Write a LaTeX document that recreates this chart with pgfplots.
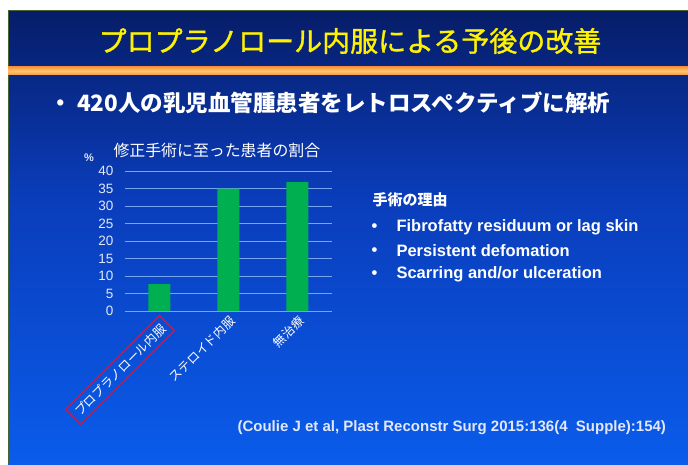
\documentclass[border=0pt]{standalone}
\usepackage{pgfplots}
\pgfplotsset{compat=1.18}
\usepackage{fontspec}
\setmainfont{Liberation Sans}
\newfontfamily\jp{Noto Sans CJK JP}
\newfontfamily\jptitle[FakeBold=1.2]{Noto Sans CJK JP}
\definecolor{bgA}{RGB}{2,12,62}
\definecolor{bgB}{RGB}{6,24,92}
\definecolor{bgC}{RGB}{10,60,185}
\definecolor{bgD}{RGB}{10,92,235}
\definecolor{bgE}{RGB}{10,104,255}
\definecolor{orA}{RGB}{236,110,20}
\definecolor{orB}{RGB}{255,196,110}
\definecolor{gridc}{RGB}{120,165,240}
\definecolor{barg}{RGB}{0,176,80}
\definecolor{boxr}{RGB}{185,30,80}
\definecolor{ticktxt}{RGB}{225,232,250}
\pgfdeclareverticalshading{slidebg}{100bp}{color(0bp)=(bgE); color(25bp)=(bgD); color(55bp)=(bgC); color(78bp)=(bgB); color(100bp)=(bgA)}
\pgfdeclareverticalshading{orbar}{100bp}{color(0bp)=(orA); color(50bp)=(orB); color(100bp)=(orA)}
\newcommand{\redbox}[1]{{\setlength{\fboxsep}{4pt}\setlength{\fboxrule}{1.6pt}\color{boxr}\fbox{\color{white}#1}}}
\begin{document}
\begin{tikzpicture}[x=1pt,y=1pt]
\useasboundingbox (0,0) rectangle (688,464);
\fill[white] (0,0) rectangle (688,464);
\shade[shading=slidebg] (8,0) rectangle (688,453);
\draw[color={rgb,255:red,70;green,100;blue,50},line width=1pt] (8,0) -- (8,453) -- (688,453);
\shade[shading=orbar] (8,389) rectangle (688,397);
\node[text=yellow,font=\jptitle\fontsize{28}{30}\selectfont] at (350,423) {プロプラノロール内服による予後の改善};
\node[text=white,font=\jp\bfseries\fontsize{22.5}{24}\selectfont,anchor=west] at (46,361) {・ 420人の乳児血管腫患者をレトロスペクティブに解析};
\node[text=white,font=\jp\fontsize{15.9}{17}\selectfont,anchor=west] at (110,314) {修正手術に至った患者の割合};
\node[text=ticktxt,font=\bfseries\fontsize{11}{12}\selectfont] at (89,306) {\%};
\node[text=white,font=\jp\bfseries\fontsize{15}{16}\selectfont,anchor=west] at (369,264) {手術の理由};
\foreach \t/\yy in {{Fibrofatty residuum or lag skin}/237,{Persistent defomation}/213,{Scarring and/or ulceration}/190}{
  \node[text=white,font=\bfseries\fontsize{16.5}{18}\selectfont,anchor=west] at (368,\yy-1) {•};
  \node[text=white,font=\bfseries\fontsize{16.5}{18}\selectfont,anchor=west] at (393,\yy) {\t};
}
\node[text=ticktxt,font=\bfseries\fontsize{15}{16}\selectfont,anchor=west] at (234,36) {(Coulie J et al, Plast Reconstr Surg 2015:136(4\ \ Supple):154)};
\begin{axis}[
  at={(125pt,153pt)}, anchor=south west,
  scale only axis, width=207pt, height=140pt,
  xmin=-0.5, xmax=2.5, ymin=0, ymax=40,
  ytick={0,5,...,40},
  xtick={0,1,2},
  xticklabels={{\redbox{プロプラノロール内服}},{ステロイド内服},{無治療}},
  axis line style={draw=none},
  major tick length=0pt,
  ymajorgrids, grid style={gridc,line width=1pt},
  ybar, bar width=22pt,
  /pgf/number format/assume math mode=true,
  yticklabel style={text=ticktxt,font=\fontsize{13.5}{15}\selectfont,xshift=-8pt},
  xticklabel style={text=white,font=\jp\fontsize{12.3}{14}\selectfont,rotate=45,anchor=north east,inner sep=1pt},
  xticklabel shift=2pt,
  clip=false,
]
\addplot[fill=barg,draw=none] coordinates {(0,7.7) (1,35.0) (2,36.8)};
\end{axis}
\end{tikzpicture}
\end{document}
